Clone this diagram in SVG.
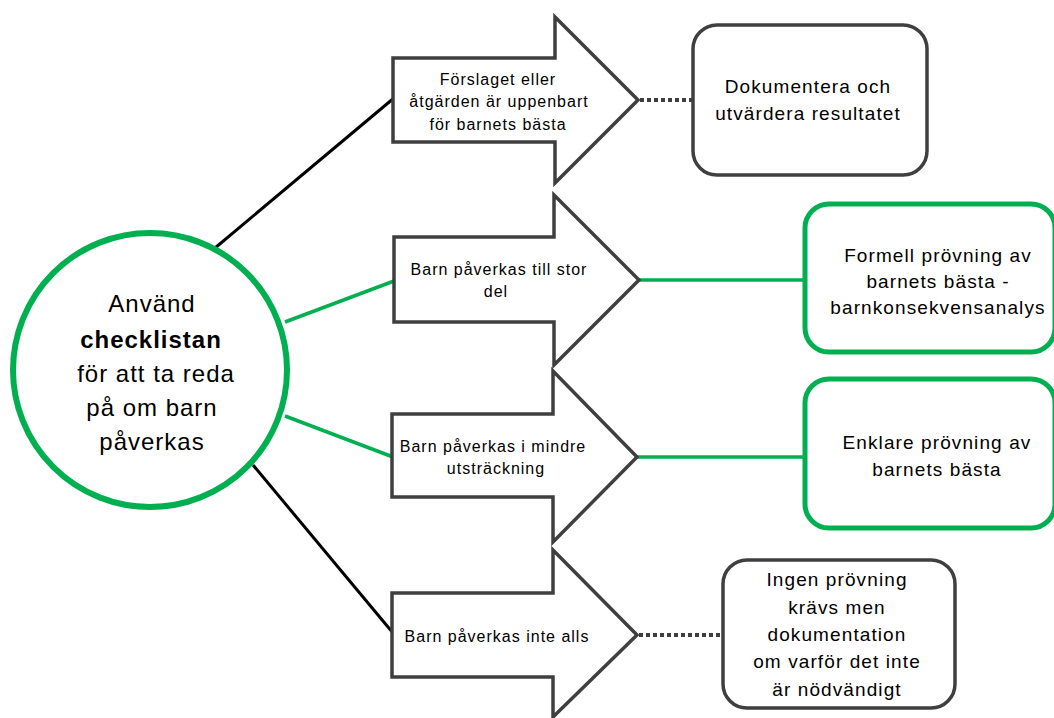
<svg xmlns="http://www.w3.org/2000/svg" width="1054" height="718" viewBox="0 0 1054 718">
<style>
.t{font-family:"Liberation Sans",Arial,sans-serif;fill:#000;text-anchor:middle}
.c{font-size:24px;letter-spacing:1px}
.a{font-size:16px;letter-spacing:1px}
.b{font-size:19px;letter-spacing:1.1px}
.arrow{fill:#fff;stroke:#3f3f3f;stroke-width:3.5;stroke-linejoin:miter}
.gbox{fill:#fff;stroke:#00b050;stroke-width:5}
.dbox{fill:#fff;stroke:#3f3f3f;stroke-width:3.5}
.bl{stroke:#000;stroke-width:3;fill:none}
.gl{stroke:#00b050;stroke-width:3.5;fill:none}
.dot{stroke:#3f3f3f;stroke-width:4;stroke-dasharray:4 3;fill:none}
</style>
<rect width="1054" height="718" fill="#fff"/>
<g id="connectors">
<line class="bl" x1="215" y1="248" x2="394" y2="98"/>
<line class="gl" x1="285" y1="322" x2="394" y2="281"/>
<line class="gl" x1="285" y1="416" x2="393" y2="457"/>
<line class="bl" x1="253" y1="465" x2="393" y2="633"/>
<line class="dot" x1="640" y1="100" x2="693" y2="100"/>
<line class="gl" x1="639" y1="280" x2="805" y2="280"/>
<line class="gl" x1="637" y1="457" x2="805" y2="457"/>
<line class="dot" x1="639" y1="635" x2="723" y2="635"/>
</g>
<g id="start">
<circle cx="150" cy="370" r="137" fill="#fff" stroke="#00b050" stroke-width="6"/>
<text class="t c" x="152" y="312">Använd</text>
<text class="t c" x="151" y="348" font-weight="bold">checklistan</text>
<text class="t c" x="156" y="382">för att ta reda</text>
<text class="t c" x="152" y="416">på om barn</text>
<text class="t c" x="152" y="450">påverkas</text>
</g>
<g id="arrow1">
<path class="arrow" d="M393,58 H555 V17 L638,100 L555,183 V142 H393 Z"/>
<text class="t a" x="498" y="85">Förslaget eller</text>
<text class="t a" x="499" y="107">åtgärden är uppenbart</text>
<text class="t a" x="498" y="130">för barnets bästa</text>
</g>
<g id="arrow2">
<path class="arrow" d="M394,237 H554 V195 L639,280 L554,365 V322 H394 Z"/>
<text class="t a" x="499" y="275">Barn påverkas till stor</text>
<text class="t a" x="496" y="297">del</text>
</g>
<g id="arrow3">
<path class="arrow" d="M392,414 H553 V371 L637,457 L553,542 V497 H392 Z"/>
<text class="t a" x="493" y="452">Barn påverkas i mindre</text>
<text class="t a" x="496" y="474">utsträckning</text>
</g>
<g id="arrow4">
<path class="arrow" d="M392,593 H553 V550 L637,635 L553,717 V677 H392 Z"/>
<text class="t a" x="497" y="642">Barn påverkas inte alls</text>
</g>
<g id="box1">
<rect class="dbox" x="693" y="25" width="234" height="150" rx="24"/>
<text class="t b" x="808" y="93">Dokumentera och</text>
<text class="t b" x="808" y="120">utvärdera resultatet</text>
</g>
<g id="box2">
<rect class="gbox" x="805" y="204" width="250" height="148" rx="24"/>
<text class="t b" x="938" y="262">Formell prövning av</text>
<text class="t b" x="938" y="288">barnets bästa -</text>
<text class="t b" x="938" y="314">barnkonsekvensanalys</text>
</g>
<g id="box3">
<rect class="gbox" x="805" y="379" width="250" height="149" rx="24"/>
<text class="t b" x="937" y="449">Enklare prövning av</text>
<text class="t b" x="937" y="476">barnets bästa</text>
</g>
<g id="box4">
<rect class="dbox" x="723" y="560" width="232" height="148" rx="24"/>
<text class="t b" x="837" y="586">Ingen prövning</text>
<text class="t b" x="837" y="614">krävs men</text>
<text class="t b" x="837" y="641">dokumentation</text>
<text class="t b" x="837" y="668">om varför det inte</text>
<text class="t b" x="837" y="696">är nödvändigt</text>
</g>
</svg>
